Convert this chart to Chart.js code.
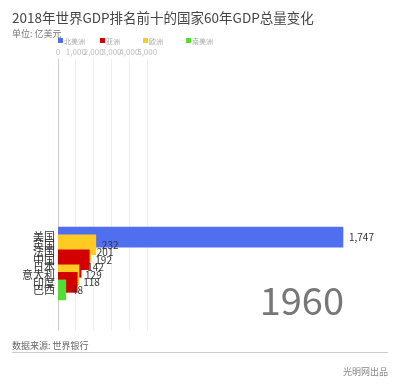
<!DOCTYPE html>
<html>
<head>
<meta charset="utf-8">
<script src="https://cdn.jsdelivr.net/npm/chart.js@4"></script>
<style>
  html, body { margin: 0; padding: 0; background: #fff; }
  #wrap { width: 400px; height: 389px; }
</style>
</head>
<body>
<div id="wrap"><canvas id="gdpChart" width="400" height="389"></canvas></div>
<script>
// 1960年 各国GDP (亿美元)
const countries = ["美国", "英国", "法国", "中国", "日本", "意大利", "印度", "巴西"];
const gdp = [1747, 232, 201, 192, 142, 129, 118, 48];
const continentOf = ["北美洲", "欧洲", "欧洲", "亚洲", "亚洲", "欧洲", "亚洲", "南美洲"];
const continents = ["北美洲", "亚洲", "欧洲", "南美洲"];
const continentColors = { "北美洲": "#4f6ff0", "亚洲": "#d40000", "欧洲": "#ffcb23", "南美洲": "#57dc35" };
const axisTicks = [0, 1000, 2000, 3000, 4000, 5000];
const year = "1960";

const font = '"Noto Sans CJK SC", "Noto Sans", sans-serif';

// 标题, 图例, 数值, 年份, 底部
const decor = {
  id: 'decor',
  afterDatasetsDraw(chart) {
    const c = chart.ctx;
    c.save();
    c.textBaseline = 'alphabetic';
    c.textAlign = 'left';
    c.fillStyle = '#444';
    c.font = '13.5px ' + font;
    c.fillText('2018年世界GDP排名前十的国家60年GDP总量变化', 12, 23);
    c.fillStyle = '#777';
    c.font = '9px ' + font;
    c.fillText('单位: 亿美元', 12, 37);

    // 图例
    const lx = [58, 100, 143, 186];
    c.font = '7px ' + font;
    c.textBaseline = 'middle';
    continents.forEach((name, i) => {
      c.fillStyle = continentColors[name];
      c.fillRect(lx[i], 38, 5, 5);
      c.fillStyle = '#aaa';
      c.fillText(name, lx[i] + 6, 41);
    });

    // 数值标签
    const meta = chart.getDatasetMeta(0);
    c.font = '10px ' + font;
    c.fillStyle = '#333';
    meta.data.forEach((bar, i) => {
      c.fillText(gdp[i].toLocaleString('en-US'), bar.x + 6, bar.y);
    });

    // 年份
    c.textAlign = 'right';
    c.textBaseline = 'alphabetic';
    c.font = '38px ' + font;
    c.fillStyle = '#777';
    c.fillText(year, 344, 315);

    // 底部
    c.textAlign = 'left';
    c.font = '9px ' + font;
    c.fillStyle = '#666';
    c.fillText('数据来源: 世界银行', 12, 349);
    c.strokeStyle = '#ccc';
    c.lineWidth = 1;
    c.beginPath();
    c.moveTo(12, 352.5);
    c.lineTo(388, 352.5);
    c.stroke();
    c.textAlign = 'right';
    c.fillStyle = '#888';
    c.fillText('光明网出品', 388, 375);
    c.restore();
  }
};

new Chart(document.getElementById('gdpChart'), {
  type: 'bar',
  data: {
    datasets: [{
      data: gdp.map((v, i) => ({ x: v, y: i })),
      backgroundColor: continentOf.map(k => continentColors[k]),
      barThickness: 20
    }]
  },
  options: {
    indexAxis: 'y',
    responsive: false,
    animation: false,
    layout: { padding: { left: 8, top: 47, right: 12, bottom: 58 } },
    plugins: {
      legend: { display: false },
      tooltip: { enabled: false }
    },
    scales: {
      x: {
        type: 'linear',
        display: false,
        min: 0,
        max: 2023
      },
      x2: {
        type: 'linear',
        position: 'top',
        min: 0,
        max: 18500,
        afterBuildTicks: axis => { axis.ticks = axisTicks.map(v => ({ value: v })); },
        afterFit: axis => { axis.height = 12; },
        grid: {
          drawTicks: false,
          color: ctx => ctx.tick && ctx.tick.value === 0 ? '#d4c8c8' : '#eeeeee',
          lineWidth: 1
        },
        border: { display: false },
        ticks: {
          autoSkip: false,
          maxRotation: 0,
          padding: 2,
          color: '#bbb',
          font: { size: 8, family: font },
          callback: v => v.toLocaleString('en-US')
        }
      },
      y: {
        type: 'linear',
        reverse: true,
        min: -21.4,
        max: 10.2,
        afterBuildTicks: axis => { axis.ticks = countries.map((n, i) => ({ value: i })); },
        afterFit: axis => { axis.width = 50; },
        grid: { display: false, drawTicks: false },
        border: { display: false },
        ticks: {
          autoSkip: false,
          padding: 3,
          color: '#333',
          font: { size: 11, family: font },
          callback: v => countries[v] !== undefined ? countries[v] : ''
        }
      }
    }
  },
  plugins: [decor]
});
</script>
</body>
</html>
